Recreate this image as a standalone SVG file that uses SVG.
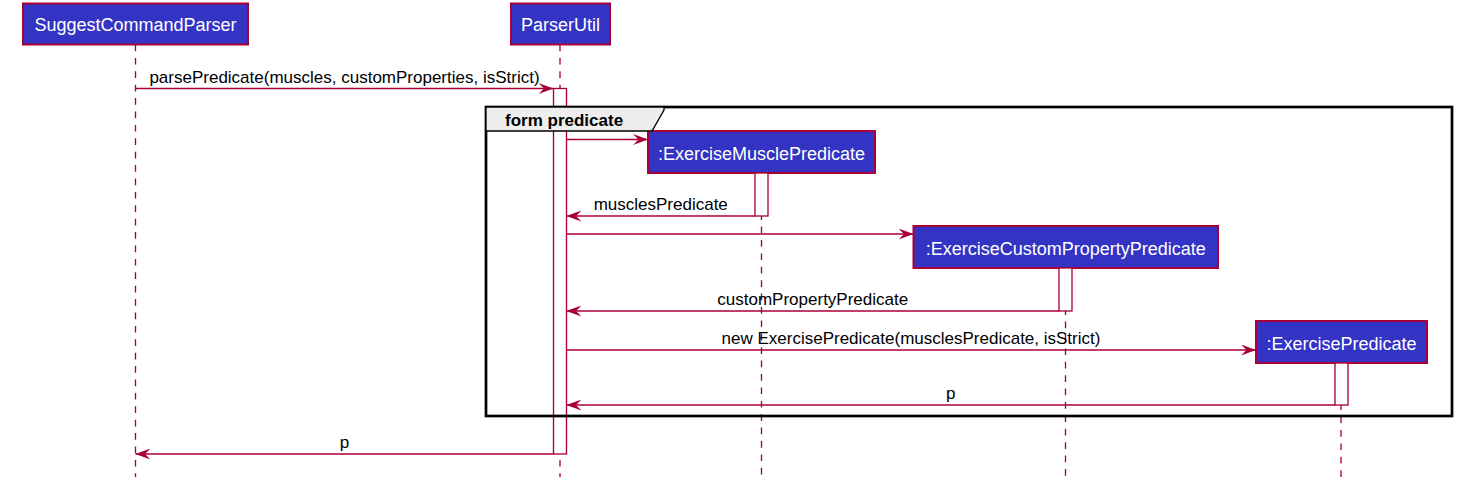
<svg xmlns="http://www.w3.org/2000/svg" width="1465" height="492" viewBox="0 0 1465 492">
<defs>
<style>
.pbox{fill:#3333C4;stroke:#A80036;stroke-width:2}
.ptxt{font-family:"Liberation Sans",Arial,sans-serif;font-size:18px;fill:#FFFFFF;text-anchor:middle}
.life{stroke:#A80036;stroke-width:1.33;stroke-dasharray:6.7,6.7;fill:none}
.act{fill:#FFFFFF;stroke:#A80036;stroke-width:1.33}
.msg{stroke:#A80036;stroke-width:1.33;fill:none}
.mtxt{font-family:"Liberation Sans",Arial,sans-serif;font-size:17px;fill:#000000;text-anchor:middle}
.frame{fill:none;stroke:#000000;stroke-width:2.7}
.tab{fill:#EEEEEE;stroke:#000000;stroke-width:1.33}
.ftxt{font-family:"Liberation Sans",Arial,sans-serif;font-size:17px;font-weight:bold;fill:#000000}
</style>
<marker id="ah" viewBox="0 0 15 11" refX="15" refY="5.5" markerWidth="15" markerHeight="11" markerUnits="userSpaceOnUse" orient="auto">
<path d="M0,0 L15,5.5 L0,11 L5.5,5.5 Z" fill="#A80036"/>
</marker>
</defs>
<rect width="1465" height="492" fill="#FFFFFF"/>

<g id="lifelines">
<line class="life" x1="135.5" y1="44.5" x2="135.5" y2="477"/>
<line class="life" x1="560" y1="44.5" x2="560" y2="477"/>
<line class="life" x1="761.5" y1="173" x2="761.5" y2="477"/>
<line class="life" x1="1065.5" y1="268" x2="1065.5" y2="477"/>
<line class="life" x1="1341" y1="363" x2="1341" y2="477"/>
</g>

<g id="SuggestCommandParser">
<rect class="pbox" x="23" y="3.5" width="225" height="41"/>
<text class="ptxt" x="135.5" y="31">SuggestCommandParser</text>
</g>
<g id="ParserUtil">
<rect class="pbox" x="511" y="3.5" width="99" height="41"/>
<text class="ptxt" x="560.5" y="31">ParserUtil</text>
<rect class="act" x="553.5" y="88.5" width="13" height="365.5"/>
</g>
<g id="ExerciseMusclePredicate">
<rect class="pbox" x="648" y="131" width="227" height="42"/>
<text class="ptxt" x="761.5" y="159.5">:ExerciseMusclePredicate</text>
<rect class="act" x="755" y="173" width="13" height="43"/>
</g>
<g id="ExerciseCustomPropertyPredicate">
<rect class="pbox" x="913.5" y="226" width="304.5" height="42"/>
<text class="ptxt" x="1065.75" y="254.5">:ExerciseCustomPropertyPredicate</text>
<rect class="act" x="1059" y="268" width="13" height="43"/>
</g>
<g id="ExercisePredicate">
<rect class="pbox" x="1256" y="321" width="171" height="42"/>
<text class="ptxt" x="1341.5" y="349.5">:ExercisePredicate</text>
<rect class="act" x="1335" y="363" width="13" height="42"/>
</g>

<g id="frame-form-predicate">
<rect class="frame" x="486" y="107" width="966" height="309"/>
<path class="tab" d="M486,107 L664,107 L664,110 L652,131 L486,131 Z"/>
<text class="ftxt" x="505" y="126">form predicate</text>
</g>

<g id="connectors">
<line class="msg" x1="135.5" y1="88.5" x2="553.5" y2="88.5" marker-end="url(#ah)"/>
<text class="mtxt" x="344.5" y="82.5">parsePredicate(muscles, customProperties, isStrict)</text>
<line class="msg" x1="566.5" y1="139.5" x2="648" y2="139.5" marker-end="url(#ah)"/>
<line class="msg" x1="755" y1="216" x2="566.5" y2="216" marker-end="url(#ah)"/>
<text class="mtxt" x="660.75" y="210">musclesPredicate</text>
<line class="msg" x1="566.5" y1="234" x2="913.5" y2="234" marker-end="url(#ah)"/>
<line class="msg" x1="1059" y1="311" x2="566.5" y2="311" marker-end="url(#ah)"/>
<text class="mtxt" x="812.75" y="305">customPropertyPredicate</text>
<line class="msg" x1="566.5" y1="350" x2="1256" y2="350" marker-end="url(#ah)"/>
<text class="mtxt" x="911" y="344">new ExercisePredicate(musclesPredicate, isStrict)</text>
<line class="msg" x1="1335" y1="405" x2="566.5" y2="405" marker-end="url(#ah)"/>
<text class="mtxt" x="950.75" y="399">p</text>
<line class="msg" x1="553.5" y1="454" x2="135.5" y2="454" marker-end="url(#ah)"/>
<text class="mtxt" x="344.5" y="448">p</text>
</g>
</svg>
